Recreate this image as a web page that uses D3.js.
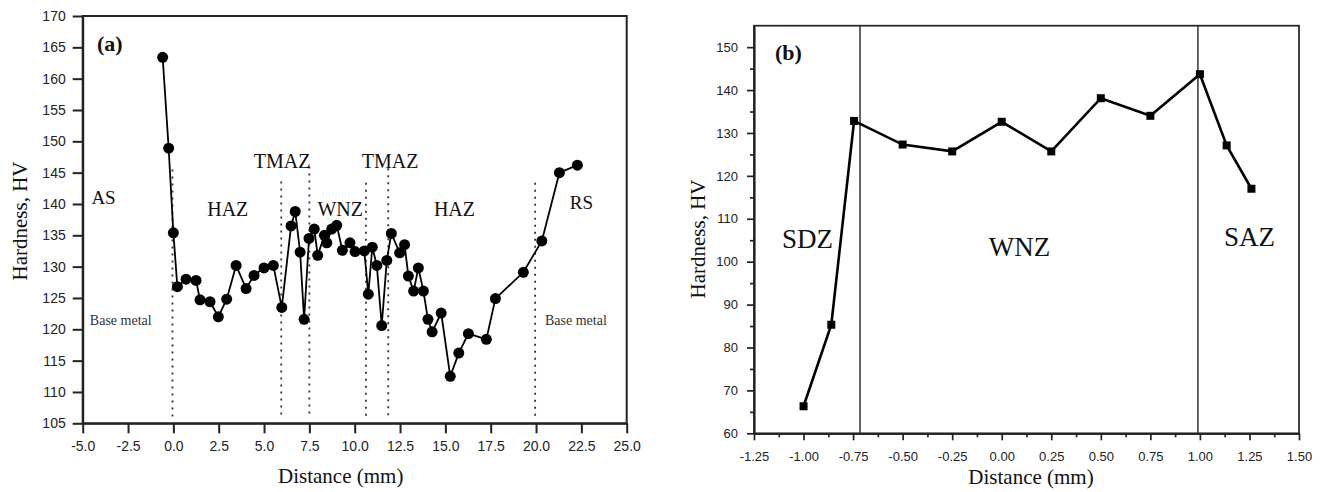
<!DOCTYPE html>
<html>
<head>
<meta charset="utf-8">
<script src="https://cdn.jsdelivr.net/npm/d3@7"></script>
<style>
  body { margin: 0; background: #fff; }
  svg text { fill: #111; }
  .tick text { font-family: "Liberation Sans", Arial, sans-serif; fill: #222; }
  .serif { font-family: "Liberation Serif", "Times New Roman", serif; }
</style>
</head>
<body>
<svg id="chart" width="1323" height="492"></svg>
<script>

// ---- panel (a) data: hardness profile across the whole joint ----
const distA = [-0.59, -0.26, 0.0, 0.22, 0.70, 1.25, 1.47, 2.02, 2.48, 2.94, 3.46, 4.01, 4.45, 5.0, 5.51,
  5.98, 6.49, 6.72, 6.99, 7.21, 7.48, 7.77, 7.96, 8.33, 8.46, 8.73, 9.01, 9.32, 9.74, 10.02, 10.53,
  10.75, 10.97, 11.22, 11.49, 11.77, 12.02, 12.48, 12.75, 12.96, 13.25, 13.51, 13.79, 14.04, 14.27,
  14.77, 15.27, 15.74, 16.27, 17.26, 17.76, 19.3, 20.32, 21.29, 22.28];
const hardA = [163.4, 148.9, 135.4, 126.8, 128.0, 127.8, 124.7, 124.4, 122.0, 124.8, 130.2, 126.5, 128.6, 129.8, 130.2,
  123.5, 136.5, 138.8, 132.3, 121.6, 134.5, 136.0, 131.8, 135.0, 133.8, 136.0, 136.6, 132.6, 133.8, 132.4, 132.5,
  125.6, 133.1, 130.2, 120.6, 131.0, 135.3, 132.2, 133.5, 128.5, 126.1, 129.8, 126.1, 121.6, 119.6,
  122.6, 112.5, 116.2, 119.3, 118.4, 124.9, 129.1, 134.1, 145.0, 146.2];
const ticksAX = [-5, -2.5, 0, 2.5, 5, 7.5, 10, 12.5, 15, 17.5, 20, 22.5, 25];
const ticksAY = [105, 110, 115, 120, 125, 130, 135, 140, 145, 150, 155, 160, 165, 170];

// dotted zone boundaries (x position, top of the dotted line in HV)
const zoneLinesA = [
  {x: -0.05, top: 145.5}, {x: 5.95, top: 143.6}, {x: 7.5, top: 146.0},
  {x: 10.62, top: 143.4}, {x: 11.85, top: 145.7}, {x: 19.95, top: 143.4}
];
// zone labels (x, y in data units)
const zoneLabelsA = [
  {text: "AS", x: -3.85, y: 140.0, size: 19},
  {text: "HAZ", x: 3.0, y: 138.1, size: 20},
  {text: "TMAZ", x: 6.0, y: 145.7, size: 20},
  {text: "WNZ", x: 9.2, y: 138.1, size: 20},
  {text: "TMAZ", x: 11.95, y: 145.7, size: 20},
  {text: "HAZ", x: 15.5, y: 138.1, size: 20},
  {text: "RS", x: 22.5, y: 139.2, size: 19},
  {text: "Base metal", x: -2.9, y: 120.7, size: 14},
  {text: "Base metal", x: 22.2, y: 120.7, size: 14}
];

// ---- panel (b) data: hardness across the weld nugget ----
const distB = [-1.0, -0.86, -0.745, -0.5, -0.25, 0.0, 0.25, 0.5, 0.75, 1.0, 1.135, 1.26];
const hardB = [66.3, 85.3, 132.8, 127.3, 125.7, 132.6, 125.7, 138.1, 134.0, 143.7, 127.1, 117.0];
const ticksBX = [-1.25, -1.0, -0.75, -0.5, -0.25, 0, 0.25, 0.5, 0.75, 1.0, 1.25, 1.5];
const ticksBY = [60, 70, 80, 90, 100, 110, 120, 130, 140, 150];
const zoneLinesB = [-0.715, 0.99];
const zoneLabelsB = [
  {text: "SDZ", x: -0.98, y: 103.2, size: 27},
  {text: "WNZ", x: 0.09, y: 101.4, size: 27},
  {text: "SAZ", x: 1.25, y: 103.6, size: 27}
];


const svg = d3.select("#chart");

// plain hyphen instead of d3's unicode minus, like the original figure
const fmt = spec => d => d3.format(spec)(d).replace("\u2212", "-");

/*
 * panel (a)
 */
function drawPanelA() {
  const box = {left: 82.7, top: 16, right: 626.7, bottom: 423.3};

  const x = d3.scaleLinear().domain([-5, 25]).range([box.left, box.right]);
  const y = d3.scaleLinear().domain([105, 170]).range([box.bottom, box.top]);

  const g = svg.append("g");

  // dotted zone lines
  g.selectAll(".zone")
    .data(zoneLinesA)
    .enter().append("line")
    .attr("x1", d => x(d.x)).attr("x2", d => x(d.x))
    .attr("y1", d => y(d.top)).attr("y2", y(106))
    .attr("stroke", "#333")
    .attr("stroke-width", 1.8)
    .attr("stroke-dasharray", "2,5");

  // axes
  g.append("g")
    .attr("transform", `translate(0,${box.bottom})`)
    .call(d3.axisBottom(x).tickValues(ticksAX).tickFormat(fmt(".1f"))
      .tickSize(10).tickSizeOuter(0).tickPadding(8))
    .call(a => a.selectAll("text").style("font-size", "14px"));

  g.append("g")
    .attr("transform", `translate(${box.left},0)`)
    .call(d3.axisLeft(y).tickValues(ticksAY).tickFormat(fmt("d"))
      .tickSize(10).tickSizeOuter(0).tickPadding(7))
    .call(a => a.selectAll("text").style("font-size", "14px"));

  g.selectAll(".domain, .tick line").attr("stroke", "#222").attr("stroke-width", 2);

  // frame
  g.append("rect")
    .attr("x", box.left).attr("y", box.top)
    .attr("width", box.right - box.left).attr("height", box.bottom - box.top)
    .attr("fill", "none").attr("stroke", "#222").attr("stroke-width", 2);

  // line + dots
  const pts = distA.map((d, i) => [d, hardA[i]]);
  g.append("path")
    .datum(pts)
    .attr("fill", "none")
    .attr("stroke", "#000")
    .attr("stroke-width", 1.8)
    .attr("d", d3.line().x(d => x(d[0])).y(d => y(d[1])));

  g.selectAll(".dot")
    .data(pts)
    .enter().append("circle")
    .attr("cx", d => x(d[0])).attr("cy", d => y(d[1]))
    .attr("r", 5.5)
    .attr("fill", "#000");

  // labels
  g.selectAll(".zl")
    .data(zoneLabelsA)
    .enter().append("text")
    .attr("class", "serif")
    .attr("x", d => x(d.x)).attr("y", d => y(d.y))
    .attr("text-anchor", "middle")
    .style("font-size", d => d.size + "px")
    .style("fill", d => d.size < 16 ? "#333" : "#111")
    .text(d => d.text);

  g.append("text").attr("class", "serif")
    .attr("x", 97).attr("y", 51)
    .style("font-size", "22px").style("font-weight", "bold")
    .text("(a)");

  g.append("text").attr("class", "serif")
    .attr("x", (box.left + box.right) / 2 - 14).attr("y", 483)
    .attr("text-anchor", "middle").style("font-size", "21px")
    .text("Distance (mm)");

  g.append("text").attr("class", "serif")
    .attr("transform", "translate(27,221) rotate(-90)")
    .attr("text-anchor", "middle").style("font-size", "21px")
    .text("Hardness, HV");
}

/*
 * panel (b)
 */
function drawPanelB() {
  const box = {left: 754, top: 25.7, right: 1299, bottom: 433.3};

  const x = d3.scaleLinear().domain([-1.25, 1.5]).range([box.left, box.right]);
  const y = d3.scaleLinear().domain([60, 155]).range([box.bottom, box.top]);

  const g = svg.append("g");

  // minor ticks
  const minorX = d3.range(-1.125, 1.5, 0.25);
  const minorY = d3.range(65, 155, 10);
  g.append("g")
    .attr("transform", `translate(0,${box.bottom})`)
    .call(d3.axisBottom(x).tickValues(minorX).tickFormat("").tickSize(4).tickSizeOuter(0));
  g.append("g")
    .attr("transform", `translate(${box.left},0)`)
    .call(d3.axisLeft(y).tickValues(minorY).tickFormat("").tickSize(4).tickSizeOuter(0));

  // major ticks
  g.append("g")
    .attr("transform", `translate(0,${box.bottom})`)
    .call(d3.axisBottom(x).tickValues(ticksBX).tickFormat(fmt(".2f"))
      .tickSize(7).tickSizeOuter(0).tickPadding(11))
    .call(a => a.selectAll("text").style("font-size", "13px"));
  g.append("g")
    .attr("transform", `translate(${box.left},0)`)
    .call(d3.axisLeft(y).tickValues(ticksBY).tickFormat(fmt("d"))
      .tickSize(7).tickSizeOuter(0).tickPadding(9))
    .call(a => a.selectAll("text").style("font-size", "13px"));

  g.selectAll(".domain, .tick line").attr("stroke", "#222").attr("stroke-width", 1.7);

  g.append("rect")
    .attr("x", box.left).attr("y", box.top)
    .attr("width", box.right - box.left).attr("height", box.bottom - box.top)
    .attr("fill", "none").attr("stroke", "#222").attr("stroke-width", 1.7);

  // solid zone boundaries
  g.selectAll(".zone")
    .data(zoneLinesB)
    .enter().append("line")
    .attr("x1", d => x(d)).attr("x2", d => x(d))
    .attr("y1", box.top).attr("y2", box.bottom)
    .attr("stroke", "#333").attr("stroke-width", 1.5);

  const pts = distB.map((d, i) => [d, hardB[i]]);
  g.append("path")
    .datum(pts)
    .attr("fill", "none")
    .attr("stroke", "#000")
    .attr("stroke-width", 2.6)
    .attr("d", d3.line().x(d => x(d[0])).y(d => y(d[1])));

  const s = 8;
  g.selectAll(".sq")
    .data(pts)
    .enter().append("rect")
    .attr("x", d => x(d[0]) - s / 2).attr("y", d => y(d[1]) - s / 2)
    .attr("width", s).attr("height", s)
    .attr("fill", "#000");

  g.selectAll(".zl")
    .data(zoneLabelsB)
    .enter().append("text")
    .attr("class", "serif")
    .attr("x", d => x(d.x)).attr("y", d => y(d.y))
    .attr("text-anchor", "middle")
    .style("font-size", d => d.size + "px")
    .text(d => d.text);

  g.append("text").attr("class", "serif")
    .attr("x", 775).attr("y", 60)
    .style("font-size", "22px").style("font-weight", "bold")
    .text("(b)");

  g.append("text").attr("class", "serif")
    .attr("x", 1031).attr("y", 484)
    .attr("text-anchor", "middle").style("font-size", "21px")
    .text("Distance (mm)");

  g.append("text").attr("class", "serif")
    .attr("transform", "translate(705,239) rotate(-90)")
    .attr("text-anchor", "middle").style("font-size", "21px")
    .text("Hardness, HV");
}

drawPanelA();
drawPanelB();
</script>
</body>
</html>
